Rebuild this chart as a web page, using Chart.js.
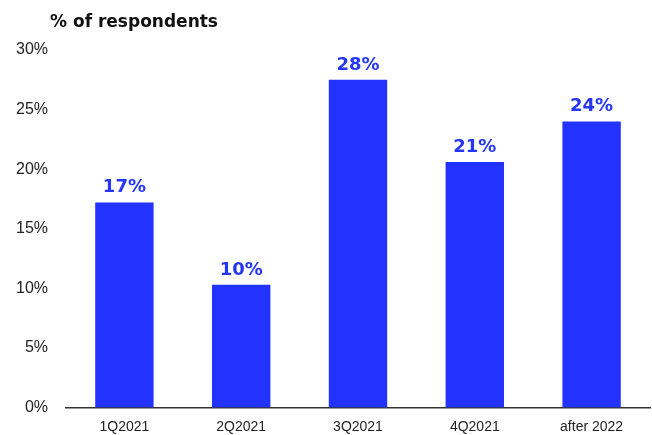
<!DOCTYPE html>
<html>
<head>
<meta charset="utf-8">
<script src="https://cdn.jsdelivr.net/npm/chart.js@4"></script>
<style>
  body { margin: 0; background: #fff; }
  #wrap { width: 652px; height: 435px; position: relative; }
</style>
</head>
<body>
<div id="wrap"><canvas id="chart"></canvas></div>
<script>
const categories = ['1Q2021', '2Q2021', '3Q2021', '4Q2021', 'after 2022'];
const respondents = [17.2, 10.3, 27.5, 20.6, 24.0];
const valueLabels = ['17%', '10%', '28%', '21%', '24%'];
const yTicks = [0, 5, 10, 15, 20, 25, 30];

const blue = '#2233ff';
const tickFont = '"Liberation Sans", Arial, sans-serif';

// labels above the bars + the title top left
const barLabels = {
    id: 'barLabels',
    afterDatasetsDraw(chart) {
        const ctx = chart.ctx;
        const meta = chart.getDatasetMeta(0);
        ctx.save();
        ctx.fillStyle = '#2536f5';
        ctx.font = 'bold 18px "DejaVu Sans", sans-serif';
        ctx.textAlign = 'center';
        ctx.textBaseline = 'alphabetic';
        meta.data.forEach((bar, i) => {
            ctx.fillText(valueLabels[i], bar.x, bar.y - 10);
        });
        ctx.fillStyle = '#111';
        ctx.font = 'bold 17px "DejaVu Sans", sans-serif';
        ctx.textAlign = 'left';
        ctx.fillText('% of respondents', 50, 27);
        ctx.restore();
    }
};

new Chart(document.getElementById('chart'), {
    type: 'bar',
    data: {
        labels: categories,
        datasets: [{
            data: respondents,
            backgroundColor: blue,
            barPercentage: 0.5,
            categoryPercentage: 1
        }]
    },
    options: {
        responsive: true,
        maintainAspectRatio: false,
        animation: false,
        layout: { padding: { top: 50, right: 2, left: 14, bottom: 0 } },
        plugins: {
            legend: { display: false },
            tooltip: { enabled: false }
        },
        scales: {
            x: {
                grid: { display: false, drawTicks: false },
                border: { color: '#333', width: 1.5 },
                ticks: { color: '#222', font: { size: 14, family: tickFont }, padding: 11 },
                afterFit: axis => { axis.height = 27; }
            },
            y: {
                min: 0,
                max: 30,
                afterBuildTicks: axis => { axis.ticks = yTicks.map(v => ({ value: v })); },
                grid: { display: false, drawTicks: false },
                border: { display: false },
                ticks: {
                    color: '#222',
                    font: { size: 16, family: tickFont },
                    padding: 18,
                    callback: v => v + '%'
                },
                afterFit: axis => { axis.width = 52; }
            }
        }
    },
    plugins: [barLabels]
});
</script>
</body>
</html>
